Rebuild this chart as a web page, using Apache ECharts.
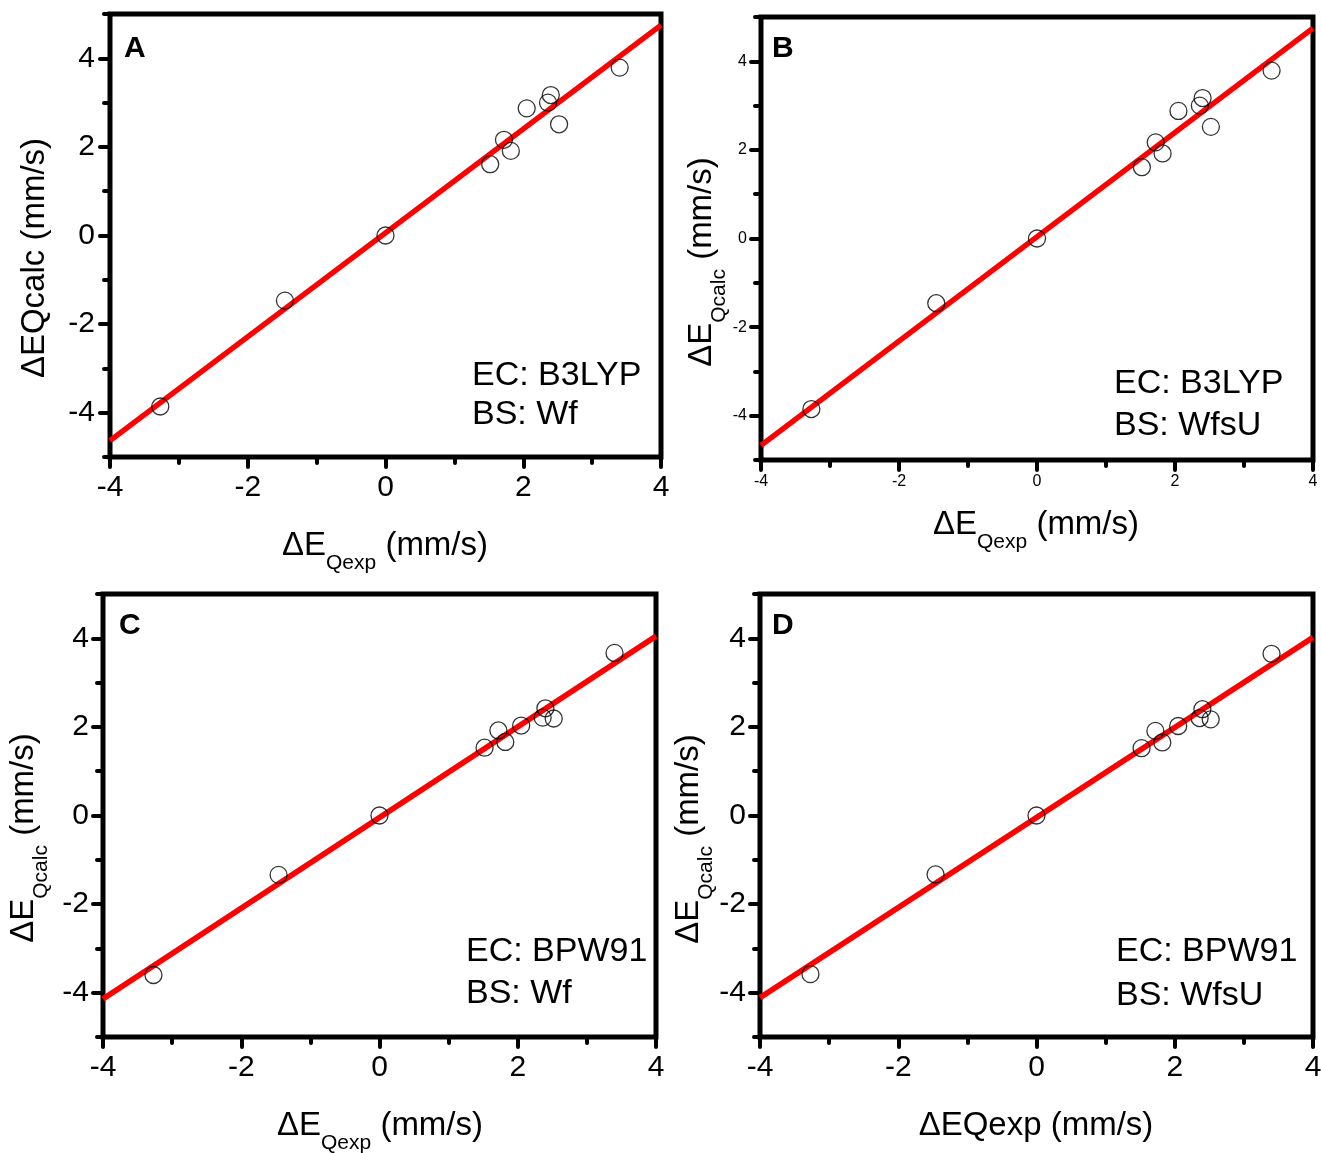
<!DOCTYPE html>
<html><head><meta charset="utf-8">
<script src="https://cdn.jsdelivr.net/npm/echarts@6/dist/echarts.min.js"></script>
<style>html,body{margin:0;padding:0;background:#fff}#c{width:1321px;height:1153px}</style>
</head><body><div id="c"></div>
<script>
// ---- data ----
const expX  = [-3.27, -1.46, 0, 1.52, 1.72, 1.82, 2.05, 2.36, 2.40, 2.52, 3.40];
const calcA = [-3.86, -1.47, 0, 1.61, 2.16, 1.91, 2.87, 3.00, 3.17, 2.51, 3.79];
const calcB = [-3.85, -1.46, 0, 1.61, 2.17, 1.92, 2.88, 3.00, 3.17, 2.52, 3.79];
const calcC = [-3.60, -1.34, 0, 1.53, 1.92, 1.66, 2.03, 2.21, 2.42, 2.19, 3.67];
const calcD = [-3.58, -1.33, 0, 1.52, 1.91, 1.65, 2.02, 2.20, 2.40, 2.17, 3.65];
const fitX = [-4, 4];
const fitA = [-4.63, 4.75];
const fitB = [-4.67, 4.75];
const fitC = [-4.14, 4.05];
const fitD = [-4.11, 4.02];
const yMajorTicks = [-4, -2, 0, 2, 4];
const yMinorTicks = [-5, -3, -1, 1, 3, 5];
const panelLetters = ['A', 'B', 'C', 'D'];
const ecLabels = ['EC: B3LYP', 'EC: B3LYP', 'EC: BPW91', 'EC: BPW91'];
const bsLabels = ['BS: Wf', 'BS: WfsU', 'BS: Wf', 'BS: WfsU'];

const FONT = 'Liberation Sans, Arial, Helvetica, sans-serif';
const calcs = [calcA, calcB, calcC, calcD];
const fits = [fitA, fitB, fitC, fitD];

// layout (pixels)
const grids = [
  {left: 110, top: 14, width: 551, height: 443},
  {left: 761, top: 17, width: 552, height: 443},
  {left: 103, top: 594, width: 553, height: 443},
  {left: 760, top: 594, width: 553, height: 443}
];
const lblSize = [30, 16, 30, 30];
const lblMarginY = [15, 14, 14, 14];
const lblMarginX = [16, 14, 16, 16];

const tickStyle = {color: '#000', width: 4, cap: 'round'};

const option = {
  animation: false,
  backgroundColor: '#fff',
  grid: [], xAxis: [], yAxis: [], series: [], graphic: []
};

for (let i = 0; i < 4; i++) {
  const g = grids[i];
  option.grid.push(Object.assign({
    show: true, borderColor: '#000', borderWidth: 5, backgroundColor: 'transparent',
    containLabel: false, outerBoundsMode: 'none'
  }, g));
  option.xAxis.push({
    gridIndex: i, type: 'value', min: -4, max: 4, interval: 2, position: 'bottom',
    axisLine: {show: false, onZero: false}, splitLine: {show: false},
    axisTick: {show: true, inside: false, length: 10, lineStyle: tickStyle},
    minorTick: {show: true, splitNumber: 2, length: 6, lineStyle: tickStyle},
    minorSplitLine: {show: false},
    axisLabel: {fontSize: lblSize[i], color: '#000', fontFamily: FONT, margin: lblMarginX[i]}
  });
  option.yAxis.push({
    gridIndex: i, type: 'value', min: -5, max: 5, position: 'left',
    axisLine: {show: false, onZero: false}, splitLine: {show: false},
    axisTick: {show: true, inside: false, length: 10, customValues: yMajorTicks, lineStyle: tickStyle},
    axisLabel: {fontSize: lblSize[i], color: '#000', fontFamily: FONT, margin: lblMarginY[i], customValues: yMajorTicks}
  });
  option.yAxis.push({
    gridIndex: i, type: 'value', min: -5, max: 5, position: 'left', offset: 0,
    axisLine: {show: false, onZero: false}, splitLine: {show: false},
    axisTick: {show: true, inside: false, length: 6, customValues: yMinorTicks, lineStyle: tickStyle},
    axisLabel: {show: false}
  });
  option.series.push({
    type: 'line', xAxisIndex: i, yAxisIndex: 2 * i,
    data: fitX.map((x, k) => [x, fits[i][k]]),
    symbol: 'none', lineStyle: {color: '#ff0000', width: 5.5}, z: 2
  });
  option.series.push({
    type: 'scatter', xAxisIndex: i, yAxisIndex: 2 * i,
    data: expX.map((x, k) => [x, calcs[i][k]]),
    symbol: 'circle', symbolSize: 17,
    itemStyle: {color: 'rgba(0,0,0,0)', borderColor: '#000', borderWidth: 1.3}, z: 3
  });
}

// ---- texts ----
function plainText(text, x, y, size, weight, align, rot) {
  return {type: 'text', x: x, y: y, rotation: rot || 0, z: 10,
    style: {text: text, fontSize: size, fontWeight: weight || 'normal', fontFamily: FONT,
      fill: '#000', align: align || 'left', verticalAlign: 'middle'}};
}
function subTitle(main, sub, tail, x, y, rot) {
  return {type: 'text', x: x, y: y, rotation: rot || 0, z: 10,
    style: {
      text: '{m|' + main + '}{s|' + sub + '}{m|' + tail + '}',
      align: 'center', verticalAlign: 'middle', fill: '#000',
      rich: {
        m: {fontSize: 33, fontFamily: FONT, fill: '#000', lineHeight: 33},
        s: {fontSize: 21, fontFamily: FONT, fill: '#000', lineHeight: 21, padding: [36, 0, 0, 0]}
      }
    }};
}
const R = Math.PI / 2;
// x titles (y = main baseline - 11.4)
option.graphic.push(subTitle('\u0394E', 'Qexp', ' (mm/s)', 385, 545.6, 0));
option.graphic.push(subTitle('\u0394E', 'Qexp', ' (mm/s)', 1036, 524.6, 0));
option.graphic.push(subTitle('\u0394E', 'Qexp', ' (mm/s)', 380, 1125.6, 0));
option.graphic.push(plainText('\u0394EQexp (mm/s)', 1036, 1125.6, 33, 'normal', 'center', 0));
// y titles
option.graphic.push(plainText('\u0394EQcalc (mm/s)', 34.6, 258, 33, 'normal', 'center', R));
option.graphic.push(subTitle('\u0394E', 'Qcalc', ' (mm/s)', 701.6, 262, R));
option.graphic.push(subTitle('\u0394E', 'Qcalc', ' (mm/s)', 23.6, 838, R));
option.graphic.push(subTitle('\u0394E', 'Qcalc', ' (mm/s)', 688.6, 839, R));
// panel letters & annotations
const letterPos = [[124, 49], [772, 49], [119, 626], [772, 626]];
const annPos = [[472, 375.8, 414.8], [1114, 383.8, 425.8], [466, 951.8, 993.8], [1116, 951.8, 995.4]];
for (let i = 0; i < 4; i++) {
  option.graphic.push(plainText(panelLetters[i], letterPos[i][0], letterPos[i][1], 30, 'bold', 'left', 0));
  option.graphic.push(plainText(ecLabels[i], annPos[i][0], annPos[i][1], 34, 'normal', 'left', 0));
  option.graphic.push(plainText(bsLabels[i], annPos[i][0], annPos[i][2], 34, 'normal', 'left', 0));
}

const chart = echarts.init(document.getElementById('c'), null, {renderer: 'canvas'});
chart.setOption(option);
</script>
</body></html>
